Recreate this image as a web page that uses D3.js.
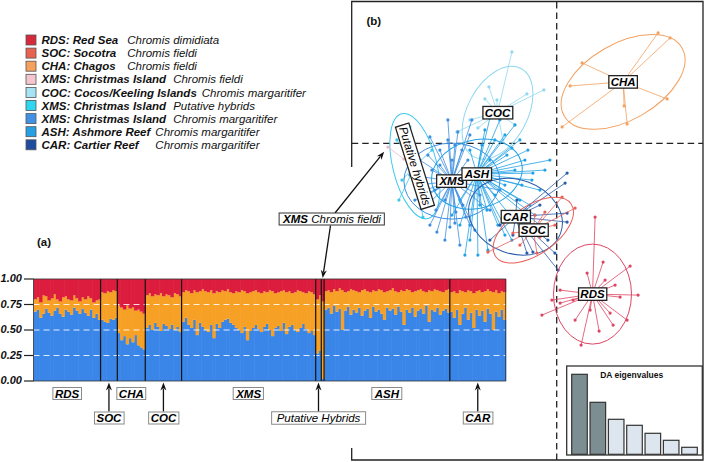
<!DOCTYPE html>
<html><head><meta charset="utf-8">
<script src="https://cdn.jsdelivr.net/npm/d3@7"></script>
<style>body{margin:0;background:#fff} svg{display:block} text{font-family:"Liberation Sans",Arial,sans-serif}</style>
</head><body><svg id="c" width="709" height="462"></svg>
<script>
// ---------------- DATA ----------------
const legendCodes = ["RDS: Red Sea","SOC: Socotra","CHA: Chagos","XMS: Christmas Island","COC: Cocos/Keeling Islands","XMS: Christmas Island","XMS: Christmas Island","ASH: Ashmore Reef","CAR: Cartier Reef"];
const legendSpecies = ["Chromis dimidiata","Chromis fieldi","Chromis fieldi","Chromis fieldi","Chromis margaritifer","Putative hybrids","Chromis margaritifer","Chromis margaritifer","Chromis margaritifer"];
const legendColors = ["#d42a3c","#e8634f","#f5a15e","#f6c6cf","#a6e4f4","#2fd6f0","#4391e5","#26a0e2","#1f4c9e"];

// STRUCTURE-like membership (blue, orange; red = remainder), per group
const structGroups = ["RDS","SOC","CHA","COC","XMS","HYB","XMF","ASH","CAR"];
const rdsBlue = [.68,.70,.62,.66,.71,.67,.64,.69,.72,.66,.63,.70,.68,.65,.72,.69,.66,.71,.67,.64,.70,.62,.66,.60];
const rdsOrange = [.12,.12,.15,.18,.12,.12,.17,.16,.08,.12,.19,.13,.12,.14,.12,.12,.12,.11,.13,.19,.11,.15,.13,.20];
const socBlue = [.60,.58,.57,.61,.60,.62];
const socOrange = [.27,.28,.31,.26,.29,.26];
const chaBlue = [.47,.40,.44,.36,.42,.38,.45,.35,.33,.31];
const chaOrange = [.27,.32,.26,.38,.29,.34,.24,.35,.35,.35];
const cocBlue = [.52,.55,.50,.57,.53,.49,.56,.54,.51,.55,.50,.53,.48];
const cocOrange = [.32,.31,.33,.28,.31,.37,.27,.31,.33,.27,.36,.32,.35];
const xmsBlue = [.58,.62,.55,.52,.60,.45,.57,.53,.50,.48,.55,.42,.56,.52,.58,.60,.61,.57,.55,.52,.50,.47,.53,.40,.49,.52,.55,.51,.48,.53,.56,.50,.44,.52,.54,.49,.57,.46,.53,.55,.50,.48,.52,.56,.51,.47,.49,.45];
const xmsOrange = [.29,.27,.33,.34,.29,.42,.31,.37,.38,.39,.34,.44,.32,.35,.31,.28,.29,.30,.31,.36,.37,.42,.35,.46,.38,.36,.34,.36,.38,.35,.31,.39,.44,.34,.33,.39,.32,.41,.35,.31,.37,.41,.36,.31,.35,.41,.38,.40];
const hybBlue = [.27,.30];
const hybOrange = [.53,.54];
const xmfBlue = [.02];
const xmfOrange = [.76];
const ashBlue = [.70,.72,.66,.74,.68,.71,.50,.69,.73,.65,.70,.67,.72,.64,.69,.71,.62,.73,.68,.70,.66,.60,.72,.69,.71,.65,.73,.68,.55,.70,.67,.72,.63,.69,.71,.66,.74,.58,.70,.68,.72,.65,.69,.71,.67];
const ashOrange = [.18,.17,.21,.16,.20,.20,.39,.18,.15,.25,.19,.21,.15,.25,.21,.17,.25,.16,.20,.20,.23,.27,.16,.20,.20,.23,.14,.21,.33,.20,.22,.15,.25,.20,.19,.22,.13,.31,.18,.22,.17,.23,.18,.18,.23];
const carBlue = [.68,.62,.70,.55,.66,.72,.60,.67,.52,.70,.64,.69,.58,.71,.66,.50,.68,.63,.70,.60];
const carOrange = [.19,.26,.16,.34,.22,.15,.29,.21,.34,.18,.25,.18,.30,.19,.22,.37,.21,.23,.18,.27];
const yTicks = [0, 0.25, 0.5, 0.75, 1];

// DAPC scatter (LD1, LD2)
const chaPts = [[5.07,5.52],[5.67,5.27],[1.27,4.02],[0.67,2.87],[5.52,2.22],[3.37,1.87],[3.52,0.97],[0.27,0.82]];
const cocPts = [[-2.24,4.57],[-3.39,2.82],[-1.49,2.47],[-0.64,2.67],[-3.59,2.22],[-2.99,2.17],[-4.99,0.57],[-3.94,0.77],[-4.34,1.17],[-2.09,0.92],[-2.69,0.17]];
const hybPts = [[-7.74,-1.84],[-6.69,-3.69],[-7.99,0.17],[-6.24,-0.34],[-7.34,0.82],[-7.89,-2.84],[-6.34,-2.44]];
const xmfPts = [[-8.44,-0.19],[-7.64,-0.79]];
const xmsPts = [[-6.34,0.32],[-5.84,-0.34],[-5.34,-4.19],[-5.09,-3.99],[-4.54,-3.69],[-5.59,-2.84],[-6.59,-2.34],[-6.24,-1.34],[-6.84,-0.84],[-5.44,0.17],[-4.94,0.57],[-4.34,0.42],[-6.04,-3.34],[-5.74,-1.84],[-6.49,-3.09],[-5.24,-0.84],[-4.69,-3.09],[-4.09,-4.34],[-6.34,-4.09],[-6.94,-2.09],[-5.84,-1.09],[-4.44,-0.84],[-3.84,-2.59],[-3.34,-3.34],[-5.59,-4.84],[-4.84,-5.09],[-2.84,-2.34],[-4.24,1.17],[-5.09,-0.09],[-6.44,-0.59],[-7.34,-1.59],[-6.74,-2.74],[-5.99,-4.44],[-5.44,1.17],[-4.74,-0.34],[-6.09,-2.34],[-4.34,-4.09],[-5.04,-3.44],[-7.09,-2.84],[-3.59,-1.59]];
const ashPts = [[-2.49,-0.59],[-2.24,-0.24],[-1.19,-1.49],[-1.24,-1.84],[-3.49,-3.34],[-3.94,-5.59],[-1.84,-2.84],[-2.34,-3.59],[-3.09,0.17],[-3.59,0.67],[-2.84,1.17],[-1.59,-0.84],[-0.84,-2.34],[-2.94,-4.09],[-4.34,-4.84],[-4.84,-4.09],[-2.59,-2.09],[-2.09,-1.34],[-3.34,-0.84],[-3.74,-0.09],[-1.34,-3.09],[-0.59,-1.34],[-1.84,0.17],[-4.34,-0.34],[-2.59,-4.59],[-3.44,-5.34],[-1.09,-3.59],[-4.84,-2.84],[-3.84,-3.09],[-2.09,0.92],[-0.34,-0.84],[-1.44,-0.34],[-3.09,-2.59],[-2.24,-4.84],[-4.59,-5.59],[-0.84,-4.09],[-1.74,-2.09],[-3.34,1.27],[-2.59,0.42],[-5.24,-3.59]];
const carPts = [[0.52,-1.49],[0.42,-1.99],[0.52,-3.49],[0.52,-3.94],[-0.09,-5.49],[0.07,-6.34],[-2.19,-4.59],[-1.49,-5.49],[-1.19,-5.44],[-1.99,-2.84],[-2.84,-4.09],[-0.84,-3.09],[-3.34,-4.84],[-0.44,-4.84]];
const socPts = [[-3.44,-5.44],[-1.09,-3.59],[-0.59,-3.44],[0.27,-2.69],[-0.84,-4.69],[-2.19,-4.49],[-0.99,-5.49],[-1.84,-5.09],[-0.09,-4.09],[0.92,-3.24]];
const rdsPts = [[3.67,-6.14],[4.07,-7.59],[3.52,-8.84],[2.12,-9.39],[1.22,-10.09],[-0.74,-8.59],[-0.24,-7.84],[0.17,-7.99],[0.82,-7.84],[3.17,-7.69],[2.67,-8.49],[2.82,-9.09],[2.32,-5.94],[1.52,-6.49],[1.92,-3.69],[2.42,-6.84],[1.67,-8.34],[0.92,-8.84],[2.92,-7.09],[0.17,-7.34]];

const clusterCodes = ["CHA","COC","HYB","XMF","XMS","ASH","CAR","SOC","RDS"];
const clusterColors = ["#f2a161","#8fd8ef","#3cc8ec","#f2b6c2","#3d8ee0","#22a2e6","#2a5caa","#e8605a","#dd4563"];
const clusterPoints = [chaPts, cocPts, hybPts, xmfPts, xmsPts, ashPts, carPts, socPts, rdsPts];
const centroids = [[3.32,3.07],[-2.96,1.53],[-7.09,-1.14],[-8.04,-0.49],[-5.24,-1.89],[-3.99,-1.54],[-2.06,-3.67],[-1.17,-4.34],[1.79,-7.54]];
const ellipseA = [3.4, 2.5, 2.7, 0, 2.4, 2.3, 2.4, 2.3, 1.95];
const ellipseB = [1.9, 1.5, 1.1, 0, 1.9, 1.7, 1.85, 1.2, 2.5];
const ellipseAngle = [30, 62, -76, 0, 0, 15, -20, 35, 0];
const eigenvalues = [80, 52, 35, 29, 21, 14, 7];
const nRetained = 2;

// ---------------- DRAW ----------------
const svg = d3.select("#c");

function boxLabel(g, cx, cy, parts, o) {
  const t = g.append("text").attr("x", cx).attr("y", cy).attr("text-anchor", "middle")
    .attr("dominant-baseline", "central").attr("font-size", o.size).attr("font-style", "italic");
  parts.forEach(p => t.append("tspan").attr("font-weight", p[1] ? "bold" : "normal").text(p[0]));
  const bb = t.node().getBBox();
  g.insert("rect", () => t.node())
    .attr("x", bb.x - o.padX).attr("y", cy - o.h / 2).attr("width", bb.width + 2 * o.padX).attr("height", o.h)
    .attr("fill", "#fff").attr("stroke", o.stroke).attr("stroke-width", o.sw);
  return t;
}
function arrow(g, x1, y1, x2, y2) {
  const a = Math.atan2(y2 - y1, x2 - x1), hl = 8, hw = 3;
  const bx = x2 - hl * Math.cos(a), by = y2 - hl * Math.sin(a);
  const nx = Math.sin(a), ny = -Math.cos(a);
  g.append("line").attr("x1", x1).attr("y1", y1).attr("x2", bx + 2 * Math.cos(a)).attr("y2", by + 2 * Math.sin(a))
    .attr("stroke", "#111").attr("stroke-width", 1.3);
  g.append("path").attr("d", `M${x2},${y2}L${bx + hw * nx},${by + hw * ny}L${bx + 2.5 * Math.cos(a)},${by + 2.5 * Math.sin(a)}L${bx - hw * nx},${by - hw * ny}Z`).attr("fill", "#111");
}

// Legend
const lg = svg.append("g");
const rowY = i => 40 + i * 13.1;
const codeNodes = [];
legendCodes.forEach((c, i) => {
  lg.append("rect").attr("x", 26).attr("y", rowY(i) - 5).attr("width", 10).attr("height", 10)
    .attr("fill", legendColors[i]).attr("stroke", "#555").attr("stroke-width", 0.8);
  codeNodes.push(lg.append("text").attr("x", 41.5).attr("y", rowY(i) + 4.1).attr("font-size", 11.5)
    .attr("font-weight", "bold").attr("font-style", "italic").attr("fill", "#111").text(c));
});
const blocks = [[0, 1, 2], [3, 5, 6], [4], [7, 8]];
const gaps = [9, 7, 5, 5];
blocks.forEach((b, k) => {
  const end = d3.max(b, i => 41.5 + codeNodes[i].node().getComputedTextLength());
  b.forEach(i => lg.append("text").attr("x", end + gaps[k]).attr("y", rowY(i) + 4.1).attr("font-size", 11.5)
    .attr("font-style", "italic").attr("fill", "#111").text(legendSpecies[i]));
});

// Panel (a)
const ga = svg.append("g");
const blues = [rdsBlue, socBlue, chaBlue, cocBlue, xmsBlue, hybBlue, xmfBlue, ashBlue, carBlue];
const oranges = [rdsOrange, socOrange, chaOrange, cocOrange, xmsOrange, hybOrange, xmfOrange, ashOrange, carOrange];
const rows = [];
blues.forEach((arr, g) => arr.forEach((b, j) => rows.push({ g, blue: b, orange: oranges[g][j], red: 1 - b - oranges[g][j] })));
const N = rows.length;
const xA = d3.scaleBand().domain(d3.range(N)).range([33.5, 505.7]);
const yA = d3.scaleLinear().domain([0, 1]).range([381, 279]);
const stack = d3.stack().keys(["blue", "orange", "red"])(rows);
const structColors = { blue: "#3a86e8", orange: "#f6a126", red: "#dc1d3e" };
stack.forEach(layer => {
  ga.append("g").selectAll("rect").data(layer).join("rect")
    .attr("x", (d, i) => xA(i)).attr("width", xA.bandwidth() + 0.6)
    .attr("y", d => yA(d[1])).attr("height", d => yA(d[0]) - yA(d[1]))
    .attr("fill", structColors[layer.key]);
});
ga.selectAll(".grid").data(yTicks.filter(v => v > 0 && v < 1)).join("line")
  .attr("x1", 33.5).attr("x2", 505.7).attr("y1", d => yA(d)).attr("y2", d => yA(d))
  .attr("stroke", "#fff").attr("stroke-opacity", 0.85).attr("stroke-width", 1.1).attr("stroke-dasharray", "6,4");
const sizes = blues.map(a => a.length);
const starts = sizes.map((s, i) => d3.sum(sizes.slice(0, i)));
starts.slice(1).forEach(s => ga.append("line").attr("x1", xA(s)).attr("x2", xA(s)).attr("y1", 279).attr("y2", 381)
  .attr("stroke", "#111").attr("stroke-width", 1.2));
ga.append("rect").attr("x", 33.5).attr("y", 279).attr("width", 472.2).attr("height", 102)
  .attr("fill", "none").attr("stroke", "#333").attr("stroke-width", 0.8);
yTicks.forEach(v => {
  ga.append("line").attr("x1", 24).attr("x2", 33.5).attr("y1", yA(v)).attr("y2", yA(v)).attr("stroke", "#222").attr("stroke-width", 1.2);
  ga.append("text").attr("x", 22).attr("y", yA(v) - 1).attr("dominant-baseline", "central").attr("text-anchor", "end")
    .attr("font-size", 11).attr("font-weight", "bold").attr("font-style", "italic").attr("fill", "#111").text(v.toFixed(2));
});
ga.append("text").attr("x", 37).attr("y", 246).attr("font-size", 11.5).attr("font-weight", "bold").attr("fill", "#111").text("(a)");
const center = g => xA(starts[g]) + sizes[g] * xA.bandwidth() / 2;
const boxA = { size: 11.5, padX: 2, h: 12, stroke: "#8a8a8a", sw: 1 };
[["RDS", 0], ["CHA", 2], ["XMS", 4], ["ASH", 7]].forEach(([t, g]) => boxLabel(ga, center(g), 393.5, [[t, true]], boxA));
[["SOC", 1], ["COC", 3], ["CAR", 8]].forEach(([t, g]) => {
  arrow(ga, center(g), 411.5, center(g), 382.5);
  boxLabel(ga, center(g), 418, [[t, true]], boxA);
});
arrow(ga, center(5), 411.5, center(5), 382.5);
boxLabel(ga, center(5), 418, [["Putative Hybrids", false]], { size: 11.5, padX: 5, h: 12.5, stroke: "#8a8a8a", sw: 1 });

// Panel (b)
const gb = svg.append("g");
const xB = d3.scaleLinear().domain([-10.25, 7.3]).range([351.7, 702.7]);
const yB = d3.scaleLinear().domain([-15.835, 7.115]).range([460, 1]);
gb.append("path").attr("d", "M351.7,167V1.5H703V460H351.7V448").attr("fill", "none").attr("stroke", "#222").attr("stroke-width", 1.3);
gb.append("line").attr("x1", xB(0)).attr("x2", xB(0)).attr("y1", 2).attr("y2", 460)
  .attr("stroke", "#222").attr("stroke-width", 1.3).attr("stroke-dasharray", "6.5,4");
gb.append("line").attr("x1", 351.7).attr("x2", 703).attr("y1", yB(0)).attr("y2", yB(0))
  .attr("stroke", "#222").attr("stroke-width", 1.3).attr("stroke-dasharray", "6.5,4");
gb.append("text").attr("x", 366.5).attr("y", 24.5).attr("font-size", 11.5).attr("font-weight", "bold").attr("fill", "#111").text("(b)");

clusterCodes.forEach((code, k) => {
  const col = clusterColors[k], c = centroids[k];
  const g = gb.append("g");
  if (ellipseA[k] > 0) {
    g.append("ellipse").attr("transform", `translate(${xB(c[0])},${yB(c[1])}) rotate(${-ellipseAngle[k]})`)
      .attr("rx", xB(ellipseA[k]) - xB(0)).attr("ry", yB(0) - yB(ellipseB[k]))
      .attr("fill", "none").attr("stroke", col).attr("stroke-width", 1);
  }
  g.selectAll("line").data(clusterPoints[k]).join("line")
    .attr("x1", xB(c[0])).attr("y1", yB(c[1])).attr("x2", d => xB(d[0])).attr("y2", d => yB(d[1]))
    .attr("stroke", col).attr("stroke-width", 0.8);
  g.selectAll("circle").data(clusterPoints[k]).join("circle")
    .attr("cx", d => xB(d[0])).attr("cy", d => yB(d[1])).attr("r", 1.6).attr("fill", col);
});
const boxB = { size: 11.5, padX: 1.8, h: 12.5, stroke: "#222", sw: 1.3 };
clusterCodes.forEach((code, k) => {
  if (code === "HYB" || code === "XMF") return;
  boxLabel(gb, xB(centroids[k][0]), yB(centroids[k][1]), [[code, true]], boxB);
});
const hk = clusterCodes.indexOf("HYB");
const hg = gb.append("g").attr("transform", `translate(${xB(centroids[hk][0])},${yB(centroids[hk][1])}) rotate(72.7)`);
boxLabel(hg, 0, 0, [["Putative hybrids", false]], { size: 11.5, padX: 2, h: 14, stroke: "#222", sw: 1.3 });

// DA eigenvalues inset
const gi = svg.append("g");
gi.append("rect").attr("x", 566.7).attr("y", 366).attr("width", 135.6).attr("height", 89)
  .attr("fill", "#fff").attr("stroke", "#333").attr("stroke-width", 1.3);
gi.append("text").attr("x", 631.7).attr("y", 378).attr("text-anchor", "middle").attr("font-size", 8.5)
  .attr("font-weight", "bold").attr("fill", "#111").text("DA eigenvalues");
const xI = d3.scaleBand().domain(d3.range(eigenvalues.length)).range([571.7, 697.3]).paddingInner(0.15);
const yI = d3.scaleLinear().domain([0, d3.max(eigenvalues)]).range([454.3, 374.3]);
gi.selectAll(".eig").data(eigenvalues).join("rect")
  .attr("x", (d, i) => xI(i)).attr("width", xI.bandwidth()).attr("y", d => yI(d)).attr("height", d => yI(0) - yI(d))
  .attr("fill", (d, i) => i < nRetained ? "#7d8e93" : "#dde6ee").attr("stroke", "#333").attr("stroke-width", 1.2);

// XMS Chromis fieldi annotation
const ann = svg.append("g");
const fk = clusterCodes.indexOf("XMF");
const fp = clusterPoints[fk][0];
const px = xB(fp[0]), py = yB(fp[1]);
const tx = 335, ty = 213;
const d = Math.hypot(px - tx, py - ty);
arrow(ann, tx, ty, px - (px - tx) / d * 6, py - (py - ty) / d * 6);
arrow(ann, 330.5, 225.5, center(6), 278);
boxLabel(ann, 332, 219, [["XMS", true], [" Chromis fieldi", false]], { size: 11.5, padX: 3, h: 12, stroke: "#333", sw: 1 });
</script></body></html>
